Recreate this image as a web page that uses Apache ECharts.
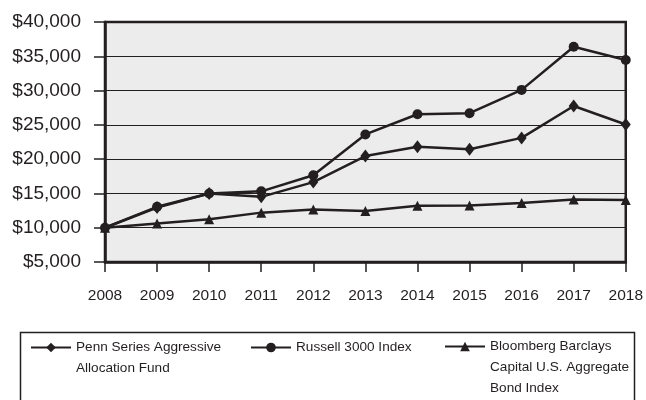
<!DOCTYPE html>
<html>
<head>
<meta charset="utf-8">
<style>
  html, body { margin: 0; padding: 0; background: #ffffff; }
  #chart { width: 646px; height: 400px; }
</style>
<script src="https://cdn.jsdelivr.net/npm/echarts@6/dist/echarts.min.js"></script>
</head>
<body>
<div id="chart"></div>
<script>
// Growth of a $10,000 investment, 2008-2018
const years = ['2008', '2009', '2010', '2011', '2012', '2013', '2014', '2015', '2016', '2017', '2018'];
const pennFund = [10000, 12950, 15000, 14500, 16650, 20450, 21800, 21450, 23100, 27750, 25050];
const russell3000 = [10000, 13050, 15000, 15300, 17650, 23600, 26550, 26700, 30100, 36400, 34450];
const bondIndex = [10000, 10600, 11250, 12200, 12650, 12450, 13200, 13250, 13600, 14100, 14050];

const seriesNames = [
  'Penn Series Aggressive\nAllocation Fund',
  'Russell 3000 Index',
  'Bloomberg Barclays\nCapital U.S. Aggregate\nBond Index'
];

const INK = '#231f20';
const FONT = '"Liberation Sans", Arial, Helvetica, sans-serif';

function money(v) {
  return '$' + v.toLocaleString('en-US');
}

// pad multi-line legend names so the first line sits level with the icon
function legendText(name) {
  const lines = name.split('\n').length;
  return '\n'.repeat(lines - 1) + name;
}

function legendFor(name, left, top) {
  return {
    data: [name],
    left: left,
    top: top,
    padding: 0,
    itemWidth: 40,
    itemHeight: 12,
    selectedMode: false,
    formatter: legendText,
    textStyle: { fontFamily: FONT, fontSize: 13.6, lineHeight: 21, color: INK }
  };
}

function lineSeries(name, data, symbol, size) {
  return {
    name: name,
    type: 'line',
    data: data,
    symbol: symbol,
    symbolSize: size,
    showAllSymbol: true,
    lineStyle: { color: INK, width: 2.5 },
    itemStyle: { color: INK, borderColor: INK, borderWidth: 0 },
    emphasis: { disabled: true },
    z: 3
  };
}

const chart = echarts.init(document.getElementById('chart'), null, { renderer: 'canvas' });

chart.setOption({
  animation: false,
  backgroundColor: '#ffffff',
  grid: {
    left: 105, right: 17, top: 22, bottom: 138,
    show: true,
    backgroundColor: '#ececec',
    borderColor: INK,
    borderWidth: 2.5
  },
  xAxis: {
    type: 'category',
    data: years,
    boundaryGap: false,
    axisLine: { lineStyle: { color: INK, width: 2.5 } },
    axisTick: { show: true, interval: 0, length: 10, lineStyle: { color: INK, width: 1.5 } },
    axisLabel: { interval: 0, fontFamily: FONT, fontSize: 15.5, color: INK, margin: 26 },
    splitLine: { show: false }
  },
  yAxis: {
    type: 'value',
    min: 5000,
    max: 40000,
    interval: 5000,
    axisLine: { show: true, lineStyle: { color: INK, width: 2.5 } },
    axisTick: { show: true, length: 11, lineStyle: { color: INK, width: 1.5 } },
    axisLabel: { fontFamily: FONT, fontSize: 19, color: INK, margin: 24, formatter: money },
    splitLine: { show: true, lineStyle: { color: INK, width: 1.2 } }
  },
  legend: [
    legendFor(seriesNames[0], 30, 316),
    legendFor(seriesNames[1], 250, 337),
    legendFor(seriesNames[2], 444, 294)
  ],
  graphic: [{
    type: 'rect',
    shape: { x: 20.5, y: 332.5, width: 614, height: 90 },
    style: { fill: null, stroke: INK, lineWidth: 1.5 },
    silent: true
  }],
  series: [
    lineSeries(seriesNames[0], pennFund, 'diamond', [10, 13]),
    lineSeries(seriesNames[1], russell3000, 'circle', 10),
    lineSeries(seriesNames[2], bondIndex, 'triangle', 10)
  ]
});
</script>
</body>
</html>
